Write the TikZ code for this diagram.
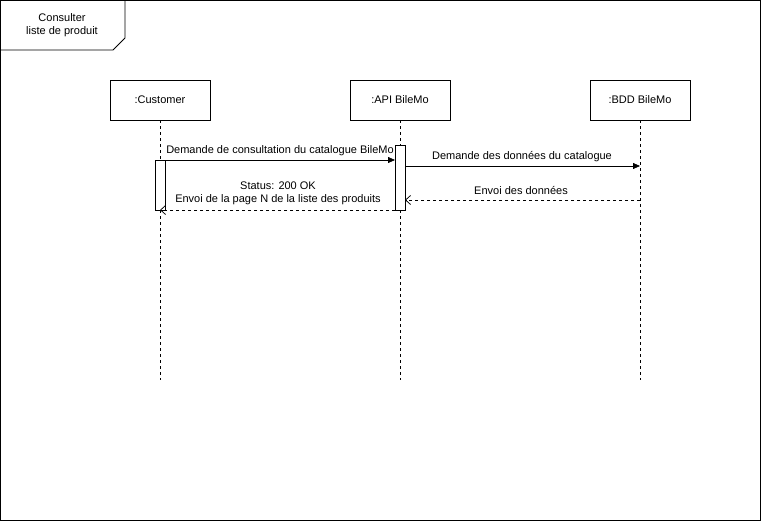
\documentclass[tikz,border=0pt]{standalone}
\usepackage{fontspec}
\setmainfont{Liberation Sans}
\usetikzlibrary{arrows.meta}
\begin{document}
\begin{tikzpicture}[x=1pt,y=-1pt,
  font=\fontsize{11}{13}\selectfont,
  every node/.style={inner sep=0pt},
  objbox/.style={draw,line width=0.75pt,minimum width=100pt,minimum height=40pt},
  lifeline/.style={dashed,line width=0.75pt,dash pattern=on 3pt off 3pt},
  actbox/.style={draw,fill=white,line width=0.75pt,minimum width=10pt},
  syncmsg/.style={line width=0.75pt,-{Triangle[length=7pt,width=6pt]}},
  retmsg/.style={line width=0.75pt,dash pattern=on 3pt off 3pt,-{Straight Barb[length=5pt,width=9pt]}},
  lbl/.style={font=\fontsize{11}{13}\selectfont,align=center}]
\useasboundingbox (0,0) rectangle (761,521);
% frame
\draw[line width=0.75pt] (0.5,0.5) rectangle (760.5,520.5);
\draw[line width=0.75pt] (0.5,50) -- (113,50) -- (125,38) -- (125,0.5);
\node[lbl] (title) at (62,25) {Consulter\\liste de produit};
% objects
\node[objbox] (cust) at (160,100) {:Customer};
\node[objbox] (api) at (400,100) {:API BileMo};
\node[objbox] (bdd) at (640,100) {:BDD BileMo};
\coordinate (custend) at (160,380);
\coordinate (apiend) at (400,380);
\coordinate (bddend) at (640,380);
\draw[lifeline] (cust.south) -- (custend);
\draw[lifeline] (api.south) -- (apiend);
\draw[lifeline] (bdd.south) -- (bddend);
% activations
\node[actbox,minimum height=50pt] (custact) at (160,185) {};
\node[actbox,minimum height=65pt] (apiact) at (400,177.5) {};
% messages
\coordinate (m1s) at (165,160);
\coordinate (m1e) at (395,160);
\draw[syncmsg] (m1s) -- (m1e);
\node[lbl] (l1) at (280,151) {Demande de consultation du catalogue BileMo};
\coordinate (m2s) at (405,166);
\coordinate (m2e) at (640,166);
\draw[syncmsg] (m2s) -- (m2e);
\node[lbl] (l2) at (522,157) {Demande des données du catalogue};
\coordinate (m3s) at (640,200);
\coordinate (m3e) at (405,200);
\draw[retmsg] (m3s) -- (m3e);
\node[lbl] (l3) at (521,191) {Envoi des données};
\coordinate (m4s) at (395,210);
\coordinate (m4e) at (160,210);
\draw[retmsg] (m4s) -- (m4e);
\node[lbl] (l4) at (278,193.5) {Status: 200 OK\\Envoi de la page N de la liste des produits};
\end{tikzpicture}
\end{document}
